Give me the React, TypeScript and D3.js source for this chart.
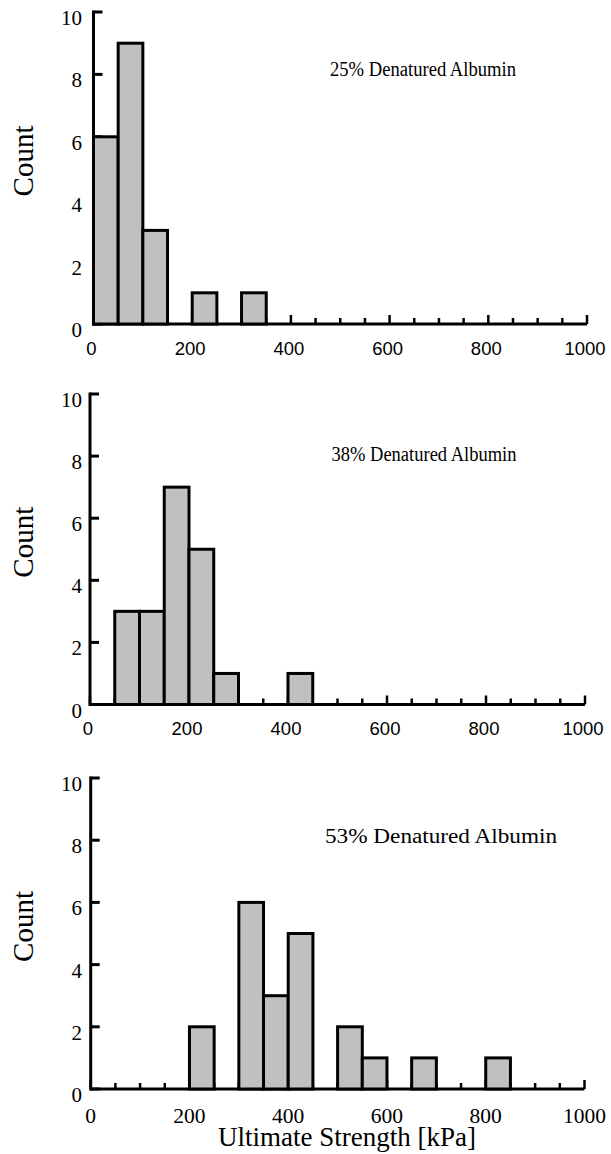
import React from 'react';
import * as d3 from 'd3';

// ---- data ----
const panelTitles = ['25% Denatured Albumin', '38% Denatured Albumin', '53% Denatured Albumin'];
const BIN_WIDTH = 50;
const binStarts25 = [0, 50, 100, 200, 300];
const counts25 = [6, 9, 3, 1, 1];
const binStarts38 = [50, 100, 150, 200, 250, 400];
const counts38 = [3, 3, 7, 5, 1, 1];
const binStarts53 = [200, 300, 350, 400, 500, 550, 650, 800];
const counts53 = [2, 6, 3, 5, 2, 1, 1, 1];
const xTickLabels = [0, 200, 400, 600, 800, 1000];
const xMinorStep = 50;
const yTickLabels = [0, 2, 4, 6, 8, 10];
const yAxisLabel = 'Count';
const xAxisLabel = 'Ultimate Strength [kPa]';

const SERIF = '"Liberation Serif", "Times New Roman", Times, serif';
const SANS = '"Liberation Sans", Arial, Helvetica, sans-serif';

const panels = [
  { starts: binStarts25, counts: counts25, title: panelTitles[0] },
  { starts: binStarts38, counts: counts38, title: panelTitles[1] },
  { starts: binStarts53, counts: counts53, title: panelTitles[2] },
];

const layouts = [
  { x0: 93.5, x1: 587, yTop: 12, yBot: 324, titleX: 330, titleY: 75.7, titleLen: 186, xFont: SANS, xSize: 18.5, xDy: 31, xShift: -2 },
  { x0: 90, x1: 585, yTop: 394, yBot: 704.5, titleX: 331.5, titleY: 460.7, titleLen: 185, xFont: SANS, xSize: 18.5, xDy: 30.5, xShift: -2 },
  { x0: 90.7, x1: 584.5, yTop: 778, yBot: 1089, titleX: 325, titleY: 843, titleLen: 232, xFont: SERIF, xSize: 21.5, xDy: 33.5, xShift: 0 },
];

function Panel({ p, L, showXLabel }: any) {
  const x = d3.scaleLinear().domain([0, 1000]).range([L.x0, L.x1]);
  const y = d3.scaleLinear().domain([0, 10]).range([L.yBot, L.yTop]);
  const minor = d3.range(0, 1000 + 1, xMinorStep);
  const midY = (L.yTop + L.yBot) / 2 - 7;
  return (
    <g>
      {/* x ticks (drawn under bars) */}
      {minor.map((v) => {
        const major = v % 200 === 0;
        return (
          <line key={'xt' + v} x1={x(v)} x2={x(v)} y1={y(0)} y2={y(0) - (major ? 9 : 6)} stroke="#000" strokeWidth={2.5} />
        );
      })}
      {/* y ticks */}
      {yTickLabels.map((v) => (
        <line key={'yt' + v} x1={L.x0} x2={L.x0 + 9} y1={y(v)} y2={y(v)} stroke="#000" strokeWidth={3} />
      ))}
      {/* axes */}
      <line x1={L.x0} x2={L.x1} y1={y(0)} y2={y(0)} stroke="#000" strokeWidth={3} />
      <line x1={L.x0} x2={L.x0} y1={y(10) - 1.5} y2={y(0) + 1.5} stroke="#000" strokeWidth={3} />
      {/* bars */}
      {p.starts.map((s: number, i: number) => (
        <rect
          key={'b' + i}
          x={x(s)}
          y={y(p.counts[i])}
          width={x(s + BIN_WIDTH) - x(s)}
          height={y(0) - y(p.counts[i])}
          fill="#c0c0c0"
          stroke="#000"
          strokeWidth={3}
        />
      ))}
      {/* y tick labels */}
      {yTickLabels.map((v) => (
        <text key={'yl' + v} x={82} y={y(v) + 13} textAnchor="end" fontFamily={SERIF} fontSize={21} fill="#000">
          {v}
        </text>
      ))}
      {/* x tick labels */}
      {xTickLabels.map((v) => (
        <text key={'xl' + v} x={x(v) + L.xShift} y={y(0) + L.xDy} textAnchor="middle" fontFamily={L.xFont} fontSize={L.xSize} fill="#000">
          {v}
        </text>
      ))}
      {/* title */}
      <text x={L.titleX} y={L.titleY} fontFamily={SERIF} fontSize={20} textLength={L.titleLen} lengthAdjust="spacingAndGlyphs" fill="#000">
        {p.title}
      </text>
      {/* y axis label */}
      <text transform={`translate(33, ${midY}) rotate(-90)`} textAnchor="middle" fontFamily={SERIF} fontSize={29} fill="#000">
        {yAxisLabel}
      </text>
      {showXLabel && (
        <text x={347} y={1146} textAnchor="middle" fontFamily={SERIF} fontSize={27} fill="#000">
          {xAxisLabel}
        </text>
      )}
    </g>
  );
}

export default function App() {
  return (
    <svg width={611} height={1154} style={{ position: 'absolute', left: 0, top: 0, background: '#fff' }}>
      <rect x={0} y={0} width={611} height={1154} fill="#fff" />
      {panels.map((p, i) => (
        <Panel key={i} p={p} L={layouts[i]} showXLabel={i === 2} />
      ))}
    </svg>
  );
}
